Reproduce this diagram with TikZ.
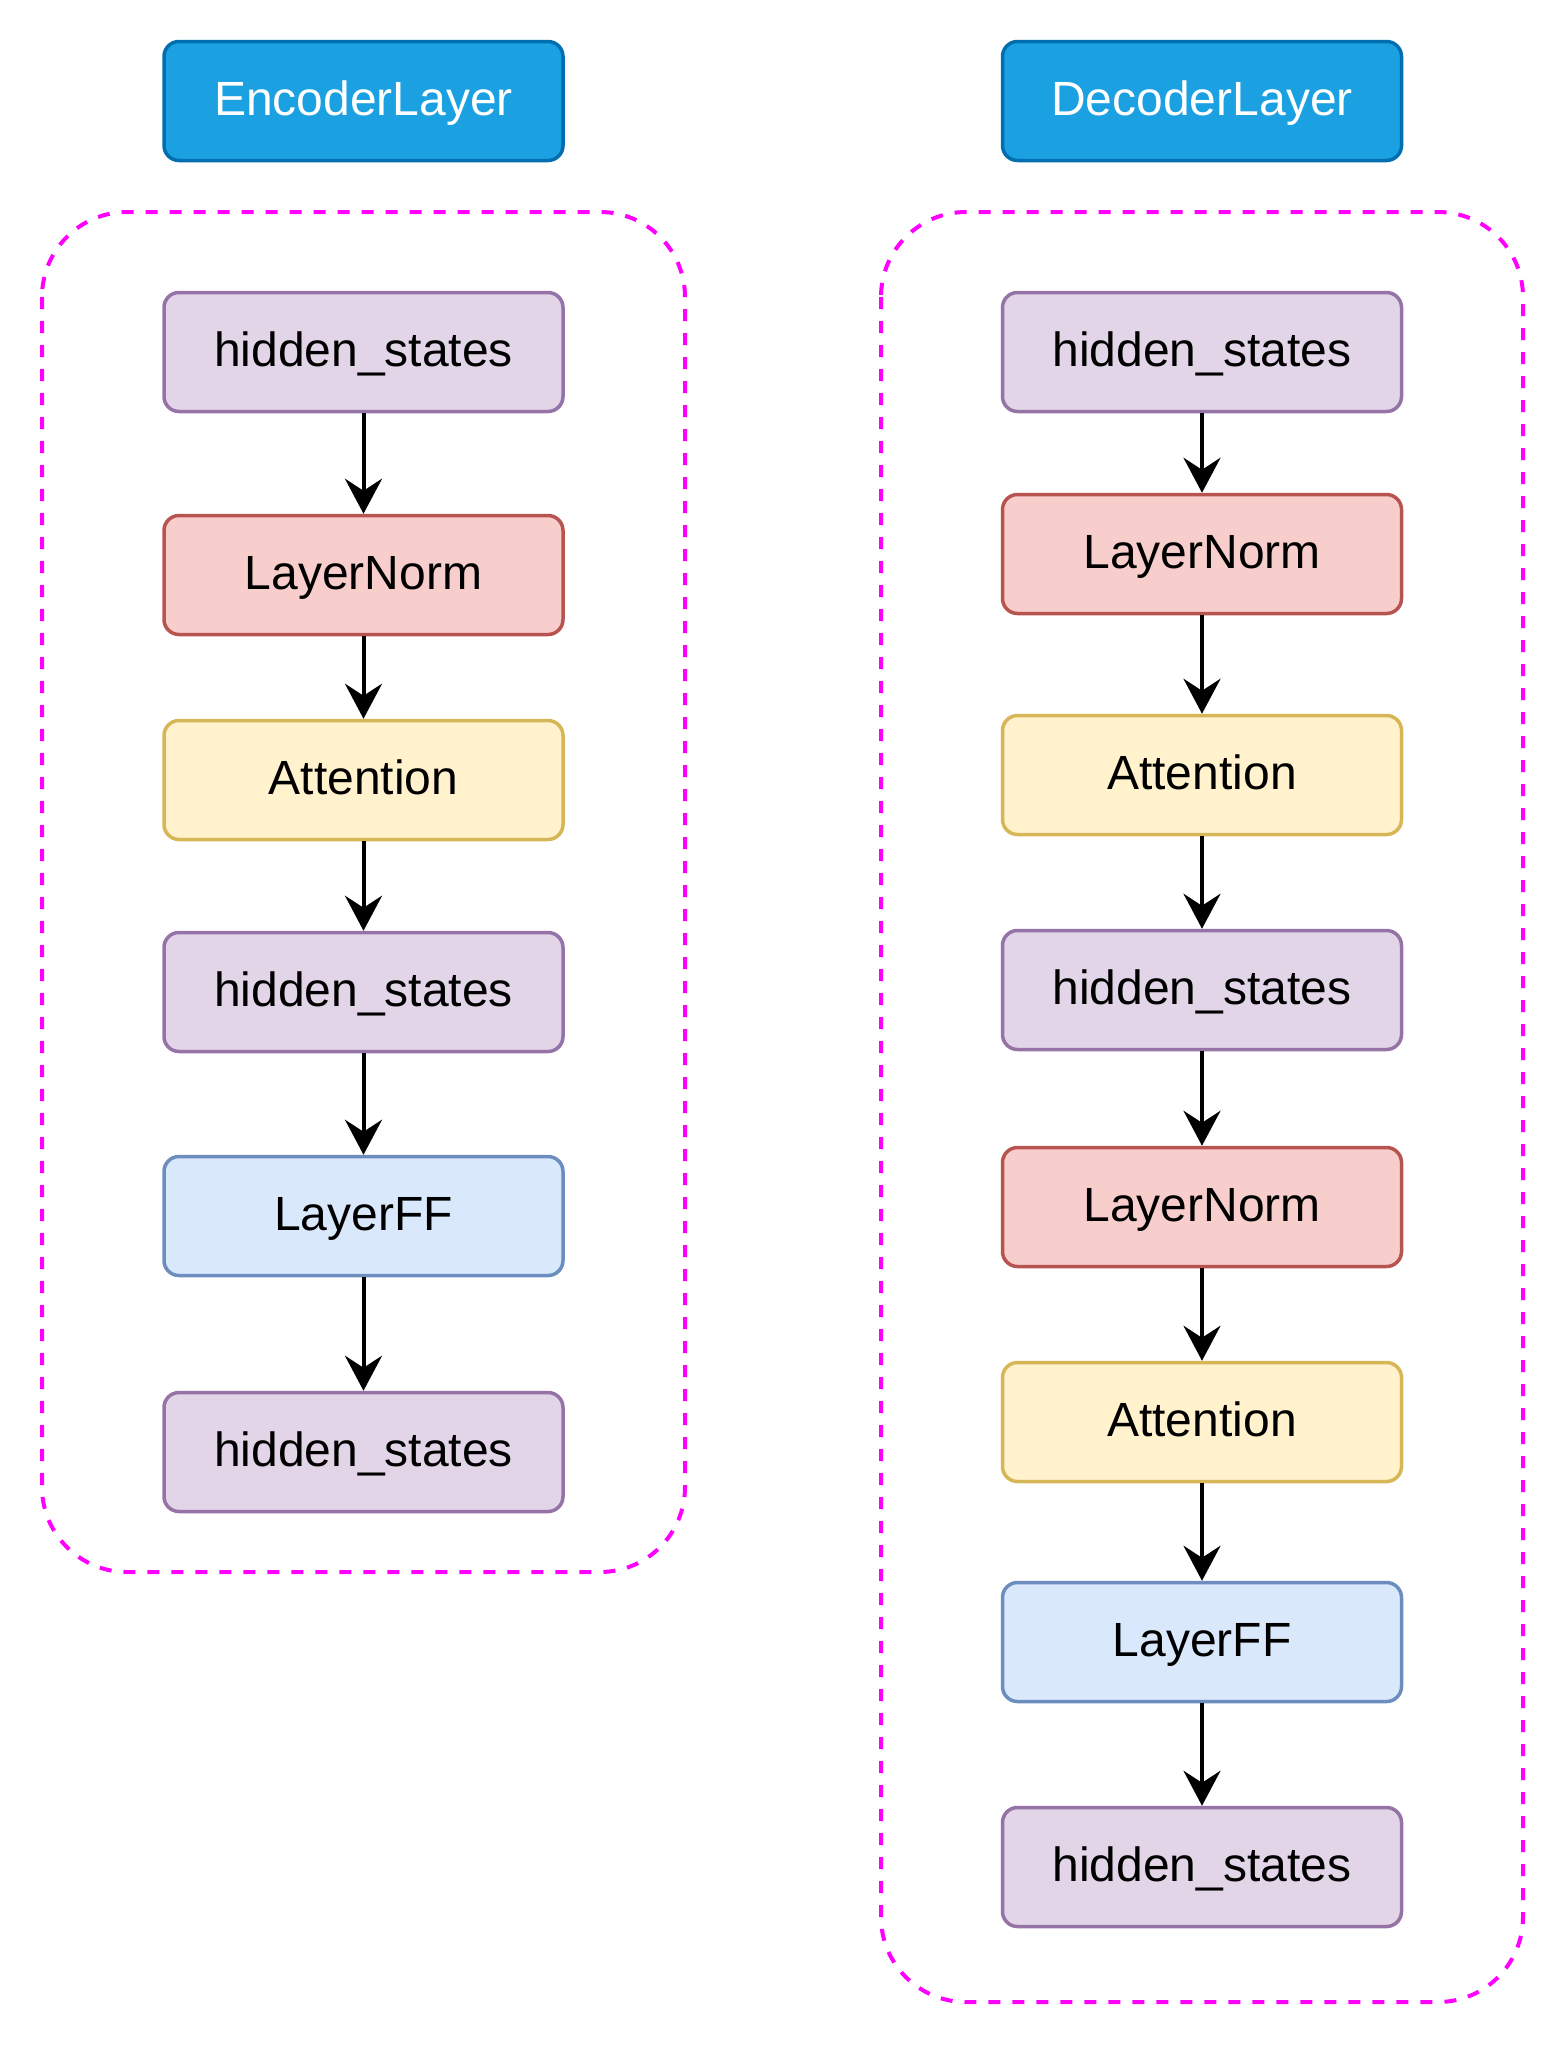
\documentclass[tikz,border=0pt]{standalone}
\usepackage{fontspec}
\setmainfont{Liberation Sans}
\usetikzlibrary{arrows.meta}
\definecolor{hsfill}{HTML}{E1D5E7}\definecolor{hsline}{HTML}{9673A6}
\definecolor{lnfill}{HTML}{F8CECC}\definecolor{lnline}{HTML}{B85450}
\definecolor{atfill}{HTML}{FFF2CC}\definecolor{atline}{HTML}{D6B656}
\definecolor{fffill}{HTML}{DAE8FC}\definecolor{ffline}{HTML}{6C8EBF}
\definecolor{hdfill}{HTML}{1BA1E2}\definecolor{hdline}{HTML}{006EAF}
\definecolor{grp}{HTML}{FF00FF}
\tikzset{
  blockbox/.style={rectangle, rounded corners=15pt, minimum width=399pt, minimum height=119pt,
     line width=3.5pt, inner sep=0pt, text height=29pt, text depth=0pt,
     font=\fontsize{48}{56}\selectfont},
  hsbox/.style={blockbox, fill=hsfill, draw=hsline},
  lnbox/.style={blockbox, fill=lnfill, draw=lnline},
  atbox/.style={blockbox, fill=atfill, draw=atline},
  ffbox/.style={blockbox, fill=fffill, draw=ffline},
  hdbox/.style={blockbox, fill=hdfill, draw=hdline, text=white},
  grpbox/.style={draw=grp, line width=4pt, dash pattern=on 12pt off 12pt, rounded corners=85pt},
  flow/.style={line width=4pt, -{Stealth[length=35pt, width=37pt, inset=12pt]}}
}
\begin{document}
\begin{tikzpicture}[x=1pt,y=-1pt]
\useasboundingbox (0,0) rectangle (1568,2048);
% groups
\draw[grpbox] (42,212) rectangle (685,1572);
\draw[grpbox] (881,212) rectangle (1523,2002);
% headers
\node[hdbox] (enc) at (363.5,101) {EncoderLayer};
\node[hdbox] (dec) at (1202,101) {DecoderLayer};
% encoder column
\node[hsbox] (e1) at (363.5,352) {hidden\_states};
\node[lnbox] (e2) at (363.5,575) {LayerNorm};
\node[atbox] (e3) at (363.5,780) {Attention};
\node[hsbox] (e4) at (363.5,992) {hidden\_states};
\node[ffbox] (e5) at (363.5,1216) {LayerFF};
\node[hsbox] (e6) at (363.5,1452) {hidden\_states};
% decoder column
\node[hsbox] (d1) at (1202,352) {hidden\_states};
\node[lnbox] (d2) at (1202,554) {LayerNorm};
\node[atbox] (d3) at (1202,775) {Attention};
\node[hsbox] (d4) at (1202,990) {hidden\_states};
\node[lnbox] (d5) at (1202,1207) {LayerNorm};
\node[atbox] (d6) at (1202,1422) {Attention};
\node[ffbox] (d7) at (1202,1642) {LayerFF};
\node[hsbox] (d8) at (1202,1867) {hidden\_states};
% connectors
\foreach \a/\b in {e1/e2,e2/e3,e3/e4,e4/e5,e5/e6,d1/d2,d2/d3,d3/d4,d4/d5,d5/d6,d6/d7,d7/d8}
  \draw[flow] (\a) -- (\b);
\end{tikzpicture}
\end{document}
